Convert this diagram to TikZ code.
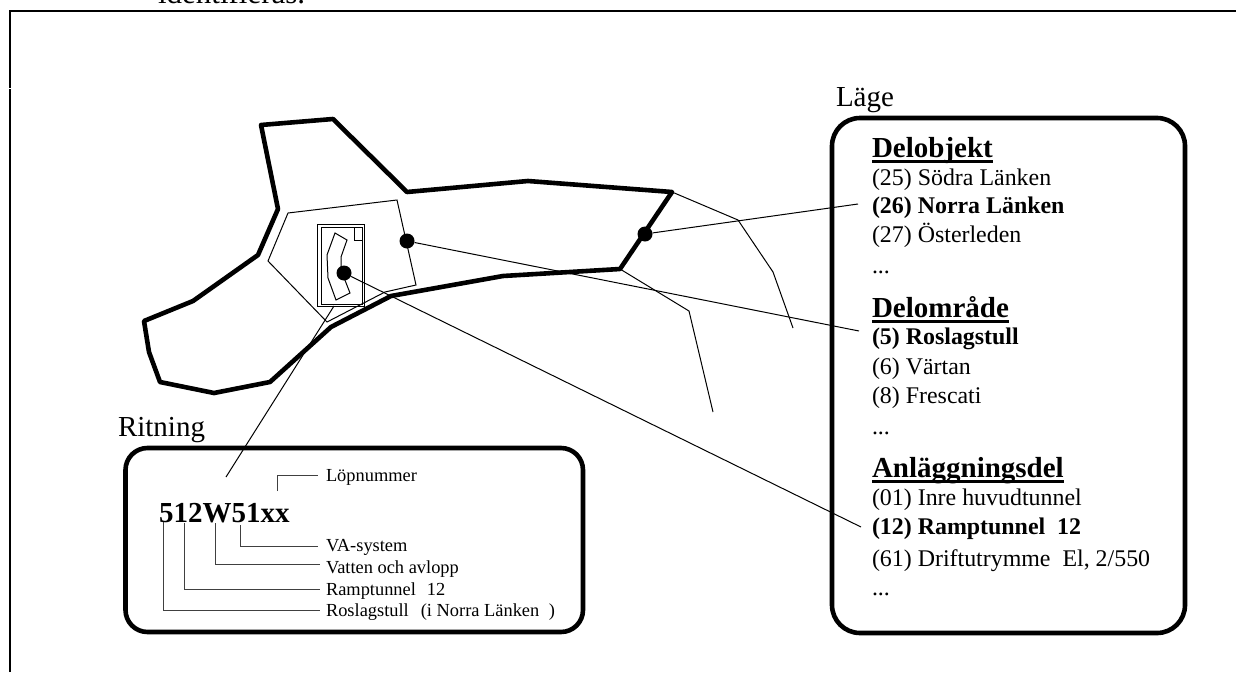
\documentclass[tikz,border=0pt]{standalone}
\usepackage{fontspec}
\setmainfont{Liberation Serif}
\tikzset{
  x=1pt,y=-1pt,
  lbl/.style={anchor=base west,inner sep=0pt,outer sep=0pt},
  bodytxt/.style={lbl,font=\fontsize{23.9}{28}\selectfont},
  boldtxt/.style={lbl,font=\fontsize{23.9}{28}\selectfont\bfseries},
  headtxt/.style={lbl,font=\fontsize{29}{34}\selectfont\bfseries},
  titletxt/.style={lbl,font=\fontsize{29}{34}\selectfont},
  smalltxt/.style={lbl,font=\fontsize{18.4}{20}\selectfont},
  panel/.style={draw=black,line width=4.6pt,rounded corners=#1,outer sep=0pt,inner sep=0pt},
  thickline/.style={line width=4.6pt,line join=round},
  thinline/.style={line width=1pt,line join=miter},
  leader/.style={line width=1pt,draw=black!75,line join=miter},
  dot/.style={circle,fill=black,inner sep=0pt,minimum size=15pt},
  headrule/.style={line width=2.6pt},
}
\begin{document}
\begin{tikzpicture}
\useasboundingbox (0,0) rectangle (1236,672);
\clip (0,0) rectangle (1236,672);
% text cut by the top edge, as in the reference
\node[lbl,font=\fontsize{31}{36}\selectfont] (top) at (158,3) {identifieras.};
% page frame
\draw[line width=2.5pt] (10,672) -- (10,11) -- (1236,11);
\draw[white,line width=0.8pt] (8.5,88.5) -- (11.5,88.5);
% map outline
\draw[thickline] (261,125) -- (333,119) -- (407,192) -- (528,181) -- (672,192) -- (620,269) -- (503,276) -- (391,296) -- (331,327) -- (270,382) -- (214,393) -- (160,382) -- (149,352) -- (144,321) -- (193,301) -- (258,255) -- (278,209) -- cycle;
% inner area
\draw[thinline] (288,213) -- (397,200) -- (416,285) -- (385,292) -- (327,322) -- (268,261) -- cycle;
% drawing frames
\draw[thinline] (317.5,224.5) rectangle (364.5,306.5);
\draw[thinline] (321.5,227) rectangle (362.5,304);
\draw[thinline] (354.5,227) rectangle (362.5,240);
\draw[thinline] (335,233) -- (347,240) -- (341,257) -- (341,270) -- (350,293) -- (336,300) -- (328,278) -- (327,255) -- cycle;
% branches
\draw[thinline] (672,192) -- (738,220) -- (773,272) -- (793,328);
\draw[thinline] (620,269) -- (689,311) -- (713,412);
% dots
\node[dot] (d1) at (645,234) {};
\node[dot] (d2) at (407,241) {};
\node[dot] (d3) at (344,273) {};
% panels
\node[panel=28pt,minimum width=353pt,minimum height=515pt,anchor=north west] (lage) at (832,118) {};
\node[panel=22pt,minimum width=457.5pt,minimum height=184pt,anchor=north west] (rit) at (125.5,448) {};
% titles
\node[titletxt] (tlage) at (836,106) {Läge};
\node[titletxt] (trit) at (118,436) {Ritning};
% Läge content
\node[headtxt] (h1) at (872,157) {Delobjekt};
\draw[headrule] ([yshift=-4.5pt]h1.base west) -- ([yshift=-4.5pt]h1.base east);
\node[bodytxt] (a1) at (872,185) {(25) Södra Länken};
\node[boldtxt] (a2) at (872,213) {(26) Norra Länken};
\node[bodytxt] (a3) at (872,242) {(27) Österleden};
\node[bodytxt] (a4) at (872,273) {...};
\node[headtxt] (h2) at (872,317) {Delområde};
\draw[headrule] ([yshift=-4.5pt]h2.base west) -- ([yshift=-4.5pt]h2.base east);
\node[boldtxt] (b1) at (872,344) {(5) Roslagstull};
\node[bodytxt] (b2) at (872,374) {(6) Värtan};
\node[bodytxt] (b3) at (872,403) {(8) Frescati};
\node[bodytxt] (b4) at (872,434) {...};
\node[headtxt] (h3) at (872,477) {Anläggningsdel};
\draw[headrule] ([yshift=-4.5pt]h3.base west) -- ([yshift=-4.5pt]h3.base east);
\node[bodytxt] (c1) at (872,505) {(01) Inre huvudtunnel};
\node[boldtxt] (c2) at (872,534) {(12) Ramptunnel\ \ 12};
\node[bodytxt] (c3) at (872,566) {(61) Driftutrymme\ \ El, 2/550};
\node[bodytxt] (c4) at (872,595) {...};
% connectors to the panels
\coordinate (e1) at (858,204);
\coordinate (e2) at (859,331);
\coordinate (e3) at (861,527);
\coordinate (e4s) at (334,306);
\coordinate (e4) at (226,477);
\draw[thinline] (d1) -- (e1);
\draw[thinline] (d2) -- (e2);
\draw[thinline] (d3) -- (e3);
\draw[thinline] (e4s) -- (e4);
% Ritning content
\node[headtxt] (code) at (159,522) {512W51xx};
\node[smalltxt] (l1) at (326,481) {Löpnummer};
\node[smalltxt] (l2) at (326,551) {VA-system};
\node[smalltxt] (l3) at (326,573) {Vatten och avlopp};
\node[smalltxt] (l4) at (326,595) {Ramptunnel\hspace{11pt}12};
\node[smalltxt] (l5) at (326,616) {Roslagstull\hspace{12pt}(i Norra Länken\hspace{9.5pt})};
\coordinate (s1) at (277.5,491);
\coordinate (s2) at (240.5,525);
\coordinate (s3) at (215,523);
\coordinate (s4) at (184.5,523);
\coordinate (s5) at (163.5,522);
\draw[leader] (s1) |- (318,475.5);
\draw[leader] (s2) |- (318,546);
\draw[leader] (s3) |- (320,564);
\draw[leader] (s4) |- (320,589);
\draw[leader] (s5) |- (320,610);
\end{tikzpicture}
\end{document}
